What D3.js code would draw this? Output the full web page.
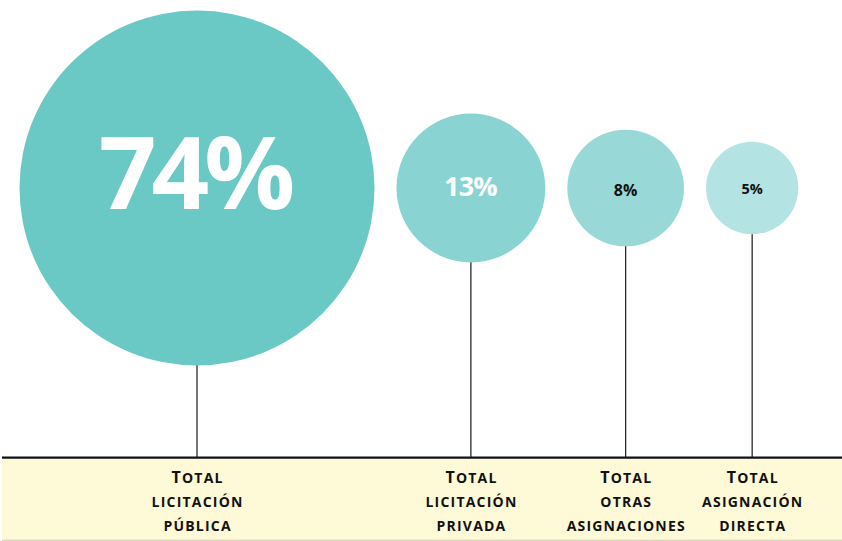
<!DOCTYPE html>
<html>
<head>
<meta charset="utf-8">
<script src="https://cdn.jsdelivr.net/npm/d3@7"></script>
<style>
  body { margin: 0; background: #fff; }
  svg { display: block; font-family: "Open Sans", "Noto Sans", sans-serif; }
</style>
</head>
<body>
<svg id="chart" width="842" height="541"></svg>
<script>
// shares of total (percent)
let shares = [74, 13, 8, 5];
let valueLabels = ["74%", "13%", "8%", "5%"];
let labelLine1 = ["Total", "Total", "Total", "Total"];
let labelLine2 = ["licitación", "licitación", "otras", "asignación"];
let labelLine3 = ["pública", "privada", "asignaciones", "directa"];

let svg = d3.select("#chart");
let width = 842;
let margin = { left: 19.5, top: 10 };
let baseY = 457.7;   // black rule above the label band
let cy = 188;
let gap = 22;        // space between circles

// area proportional to the share
let rScale = d3.scaleSqrt()
    .domain([0, d3.max(shares)])
    .range([0, 177.5]);

let color = d3.scaleOrdinal()
    .domain(shares)
    .range(["#6ac8c5", "#89d4d2", "#98d9d8", "#b4e3e3"]);

// lay the circles out left to right, side by side
let nodes = [];
let cursor = margin.left;
shares.forEach(function(d, i) {
  let r = rScale(d);
  nodes.push({ value: d, r: r, cx: cursor + r, i: i });
  cursor += 2 * r + gap;
});

// label band
svg.append("rect")
    .attr("x", 2)
    .attr("y", baseY + 1)
    .attr("width", width - 2)
    .attr("height", 540 - baseY - 1)
    .attr("fill", "#fef9d6");
svg.append("line")
    .attr("x1", 2).attr("x2", width)
    .attr("y1", 540.3).attr("y2", 540.3)
    .attr("stroke", "#c9c4a8")
    .attr("stroke-width", 1);

// stems
svg.selectAll("line.stem")
  .data(nodes)
  .enter().append("line")
    .attr("class", "stem")
    .attr("x1", d => d.cx).attr("x2", d => d.cx)
    .attr("y1", d => cy + d.r - 1)
    .attr("y2", baseY)
    .attr("stroke", "#1a1a1a")
    .attr("stroke-width", 1.2);

svg.append("line")
    .attr("x1", 2).attr("x2", width)
    .attr("y1", baseY).attr("y2", baseY)
    .attr("stroke", "#111")
    .attr("stroke-width", 2.2);

// bubbles
svg.selectAll("circle.bubble")
  .data(nodes)
  .enter().append("circle")
    .attr("class", "bubble")
    .attr("cx", d => d.cx)
    .attr("cy", cy)
    .attr("r", d => d.r)
    .attr("fill", d => color(d.value));

// value labels inside bubbles
let fontSizes = [101, 27, 16, 14.5];
let baselineDy = [21, 7.7, 7.5, 5.7];
let textColors = ["#fff", "#fff", "#111", "#111"];
let spacing = [-5, -0.8, 0, 0];
svg.selectAll("text.value")
  .data(nodes)
  .enter().append("text")
    .attr("class", "value")
    .attr("x", d => d.cx + spacing[d.i] / 2)
    .attr("y", d => cy + baselineDy[d.i])
    .attr("text-anchor", "middle")
    .attr("font-weight", 700)
    .attr("font-size", d => fontSizes[d.i])
    .attr("letter-spacing", d => spacing[d.i])
    .attr("fill", d => textColors[d.i])
    .text(d => valueLabels[d.i]);

// category labels, small caps
let rowY = [482.7, 506.7, 530.5];
let ls = 1.2;
nodes.forEach(function(d) {
  let g = svg.append("g").attr("class", "cat");
  [labelLine1[d.i], labelLine2[d.i], labelLine3[d.i]].forEach(function(line, k) {
    let t = g.append("text")
        .attr("x", d.cx + ls / 2)
        .attr("y", rowY[k])
        .attr("text-anchor", "middle")
        .attr("font-weight", 700)
        .attr("letter-spacing", ls)
        .attr("fill", "#111");
    let first = line.charAt(0);
    if (first === first.toUpperCase()) {
      t.append("tspan").attr("font-size", 16).text(first);
      t.append("tspan").attr("font-size", 14).text(line.slice(1).toUpperCase());
    } else {
      t.append("tspan").attr("font-size", 14).text(line.toUpperCase());
    }
  });
});
</script>
</body>
</html>
